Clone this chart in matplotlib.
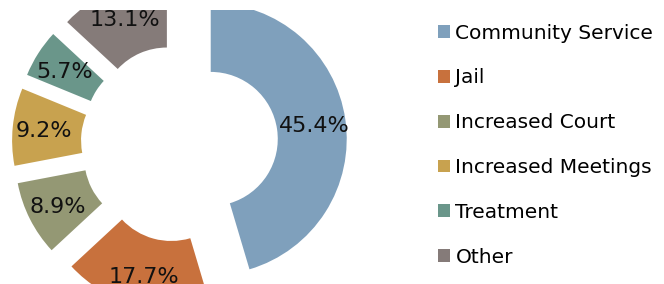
import numpy as np
import matplotlib.pyplot as plt

labels = ["Community Service", "Jail", "Increased Court", "Increased Meetings", "Treatment", "Other"]
shares = [45.4, 17.7, 8.9, 9.2, 5.7, 13.1]
colors = ["#7FA0BC", "#C8713D", "#949874", "#C8A24F", "#6A968A", "#857B79"]

plt.rcParams['font.family'] = ['DejaVu Sans']

fig = plt.figure(figsize=(6.64, 2.84), dpi=100)
# plot area is cut off 10 px below the top edge, like the original
ax = fig.add_axes([0, 0, 1, 274 / 284])

# donut centre at ~(180, 143.5) px from top-left, outer radius ~136 px -> radius 1
wedges, texts = ax.pie(shares, colors=colors, startangle=90, counterclock=False,
                       explode=[0.232] * len(shares), radius=1.0,
                       wedgeprops=dict(width=0.507, edgecolor="none"))

for w, v in zip(wedges, shares):
    w.set_clip_on(True)
    ang = np.deg2rad((w.theta1 + w.theta2) / 2)
    cx, cy = w.center
    r = 0.77
    ax.text(cx + r * np.cos(ang), cy + r * np.sin(ang) - 0.012, f"{v}%",
            ha="center", va="center", fontsize=16, color="#111111", clip_on=True)

ax.set_xlim(-179.5 / 136, (664 - 179.5) / 136)
ax.set_ylim(-(284 - 143.5) / 136, (143.5 - 10) / 136)
ax.set_aspect("equal")
ax.axis("off")

leg = fig.legend(wedges, labels, loc="upper left", bbox_to_anchor=(0.648, 0.945),
                 frameon=False, fontsize=14.5, handlelength=0.6, handleheight=0.6,
                 handletextpad=0.25, labelspacing=1.28, borderaxespad=0)

fig.savefig("out.png", dpi=100)
